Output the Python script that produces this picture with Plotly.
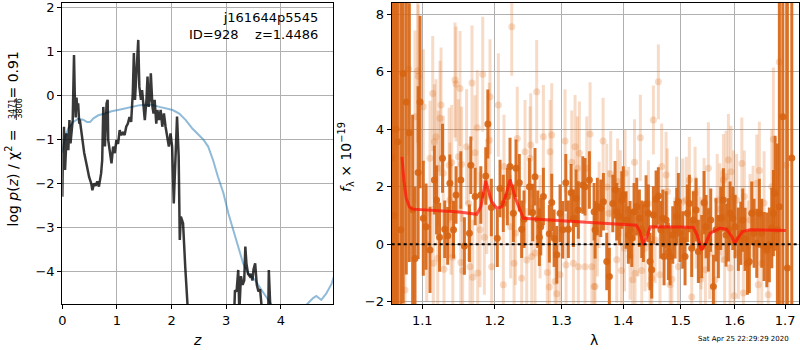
import plotly.graph_objects as go
import math

# ---------------- left panel: p(z) and chi2 ----------------
z_pz = [0.0, 0.007, 0.03, 0.05, 0.08, 0.11, 0.13, 0.15, 0.19, 0.214, 0.23, 0.245, 0.26, 0.275, 0.29, 0.31,
        0.32, 0.36, 0.40, 0.45, 0.49, 0.53, 0.55, 0.58, 0.61, 0.64, 0.67, 0.71, 0.73, 0.75, 0.78, 0.81,
        0.83, 0.84, 0.87, 0.90, 0.93, 0.96, 0.99, 1.02, 1.05, 1.08, 1.11, 1.14, 1.17, 1.20, 1.23, 1.26,
        1.29, 1.31, 1.33, 1.36, 1.39, 1.41, 1.44, 1.46, 1.49, 1.51, 1.54, 1.56, 1.58, 1.60, 1.62, 1.65,
        1.67, 1.69, 1.72, 1.74, 1.77, 1.80, 1.83, 1.86, 1.89, 1.92, 1.95, 1.98, 2.01, 2.04, 2.07, 2.10,
        2.13, 2.15, 2.17, 2.21, 2.25, 2.30, 2.40, 2.6, 2.8, 3.0, 3.10, 3.15, 3.16, 3.19, 3.22, 3.24,
        3.27, 3.30, 3.33, 3.35, 3.37, 3.40, 3.43, 3.45, 3.48, 3.50, 3.53, 3.56, 3.59, 3.62, 3.65, 3.70,
        3.77, 3.78, 3.81, 3.9, 4.2, 4.5, 4.97]
logp = [-2.3, -1.6, -0.71, -1.69, -0.86, -1.24, -0.56, -1.09, -0.56, 0.92, -0.10, -0.5, -0.05, -0.33, -0.18, -0.64,
        -0.55, -0.94, -1.3, -1.6, -1.85, -2.0, -2.15, -2.0, -2.05, -1.95, -2.07, -1.77, -1.47, -0.26, -1.16, -0.18,
        -0.1, -1.01, -1.31, -1.54, -1.16, -1.31, -1.01, -1.1, -0.79, -0.9, -0.85, -0.9, -0.71, -0.64, -0.49, -0.6,
        0.05, 0.96, -0.1, 0.62, 1.26, 0.2, -0.1, 0.12, -0.26, -0.56, -0.1, 0.43, -0.26, -0.1, 0.50, -0.26,
        -0.41, -0.1, -0.64, -0.33, -0.56, -0.33, -0.71, -0.41, -0.71, -0.94, -1.16, -0.86, -1.16, -2.45, -1.2, -0.48,
        -1.39, -3.28, -2.75, -2.9, -3.89, -4.9, -7.0, -8.0, -8.0, -7.5, -6.0, -4.8, -4.42, -4.45, -3.96, -4.9,
        -4.1, -4.3, -4.2, -3.43, -3.81, -4.05, -4.1, -4.05, -4.2, -3.95, -3.81, -4.3, -4.45, -4.4, -4.8, -5.5,
        -4.9, -3.96, -4.9, -7.0, -8.0, -8.0, -8.0]

z_chi = [0.0, 0.05, 0.11, 0.2, 0.29, 0.38, 0.45, 0.51, 0.57, 0.66, 0.78, 0.90, 1.02, 1.14, 1.26, 1.42, 1.54,
         1.66, 1.78, 1.90, 2.02, 2.14, 2.26, 2.38, 2.49, 2.58, 2.67, 2.76, 2.85, 2.95, 3.04, 3.13, 3.22,
         3.31, 3.40, 3.53, 3.65, 3.74, 3.83, 4.0, 4.2, 4.4, 4.47, 4.59, 4.65, 4.74, 4.83, 4.93, 4.99]
chi_scaled = [-1.3, -0.94, -0.75, -0.60, -0.53, -0.55, -0.60, -0.60, -0.52, -0.45, -0.41, -0.36, -0.33, -0.30,
              -0.26, -0.22, -0.21, -0.22, -0.26, -0.30, -0.33, -0.41, -0.56, -0.75, -0.88, -1.0, -1.16, -1.47,
              -1.85, -2.22, -2.68, -3.06, -3.43, -3.81, -4.04, -4.19, -4.42, -4.6, -4.75, -5.0, -5.15, -5.0,
              -4.75, -4.6, -4.55, -4.64, -4.5, -4.27, -4.04]

# ---------------- right panel: spectrum ----------------
lam_dark = [1.0605, 1.0632, 1.0657, 1.0680, 1.0720, 1.0750, 1.0790, 1.0830, 1.0873, 1.0904, 1.0945, 1.0970,
            1.1013, 1.1049, 1.1102, 1.1160, 1.1190, 1.1230, 1.1270, 1.1300, 1.1340, 1.1370, 1.1420, 1.1454,
            1.1520, 1.1570, 1.1640, 1.1660, 1.1720, 1.1800, 1.1870, 1.1900, 1.1950,
            1.2036, 1.2075, 1.2123, 1.2182, 1.2221, 1.2270, 1.2309, 1.2358, 1.2393, 1.2428, 1.2508, 1.2558,
            1.2593, 1.2634, 1.2659, 1.2680, 1.2720, 1.2811, 1.2848, 1.2885, 1.2926, 1.2977, 1.3019, 1.3067,
            1.3107, 1.3150, 1.3187, 1.3229, 1.3265, 1.3336, 1.3372, 1.3442, 1.3518,
            1.3534, 1.3571, 1.3627, 1.3670, 1.3725, 1.3768, 1.3825, 1.3863, 1.3891, 1.3935, 1.3975, 1.4000,
            1.4047, 1.4086, 1.4114, 1.4143, 1.4182, 1.4228, 1.4273, 1.4314, 1.4342, 1.4388, 1.4428, 1.4457,
            1.4486, 1.4515, 1.4562, 1.4602, 1.4644, 1.4680, 1.4702, 1.4738, 1.4778, 1.4808, 1.4856, 1.4897,
            1.4927, 1.4957, 1.4987, 1.5035, 1.5077, 1.5119, 1.5155, 1.5198, 1.5228,
            1.5278, 1.5320, 1.5382, 1.5425, 1.5462, 1.5505, 1.5549, 1.5598, 1.5649, 1.5692, 1.5737, 1.5787,
            1.5838, 1.5882, 1.5914, 1.5966, 1.6010, 1.6073, 1.6120, 1.6158, 1.6203, 1.6248, 1.6286, 1.6333,
            1.6379, 1.6432, 1.6483, 1.6531, 1.6577, 1.6631, 1.6682, 1.6731, 1.6763, 1.6797, 1.6844, 1.6884,
            1.6953, 1.7047, 1.7137]
flux_dark = [3.0, 1.0, 4.0, 3.56, 0.50, 5.94, 4.95, 3.88, 1.2, -0.5, 2.49, 4.95,
             0.90, 0.61, -0.20, 2.23, 1.54, 0.24, 2.99, 0.52, 0.29, 2.12, 0.50, 1.71,
             2.23, -0.06, 0.38, 2.75, 1.66, 1.71, 2.37, 4.18, 1.28,
             0.21, 1.94, 1.42, 1.66, 2.70, 1.08, 2.64, 2.14, 0.52, 0.87, 2.00, 1.10,
             2.35, 0.87, 0.24, 0.61, 1.66, 0.36, 1.45, 0.21, -0.37, 1.08, 0.50, 2.14,
             0.52, 1.79, 0.90, 1.60, 1.19, 2.06, 2.00, 2.23, 1.13,
             0.50, 1.31, 1.25, 1.48, -0.60, -1.12, 1.42, 1.89, 1.13, 0.96, 1.54, 1.71,
             0.84, 0.32, 0.50, 0.21, 1.13, 1.31, 0.90, 0.52, 0.38, 1.40, 1.08, -0.60,
             -0.89, 1.02, 1.56, 1.68, 0.50, 0.90, -0.43, 0.84, -0.25, -0.43, 0.32, 0.50,
             0.96, 1.48, 0.38, 0.15, -0.43, 1.08, 1.42, -0.14, 0.84,
             1.19, -0.25, -0.08, 1.45, 0.61, 0.15, 0.84, -1.47, 0.50, -0.08, 0.90, 1.54,
             0.32, 0.50, 1.08, 0.90, 0.61, 0.17, 0.38, 0.84, 0.17, -0.66, -0.60, 1.08,
             0.38, 0.03, 1.08, 0.38, -0.08, -0.20, -0.02, 0.56, 1.08, 1.77, 0.50, 1.3,
             4.43, -0.83, 3.0]
err_dark = [15, 15, 12, 10, 10, 8, 6, 4.5, 3.3, 2.5, 3, 3,
            2, 1.5, 1.5, 1.2, 1.2, 1.2, 1.2, 1.0, 1.0, 1.0, 1.0, 1.0,
            1.0, 1.0, 1.0, 1.0, 1.0, 1.0, 1.0, 1.2, 1.0,
            1.0, 1.0, 1.0, 1.0, 1.0, 1.0, 1.0, 1.0, 1.0, 1.0, 1.0, 1.0,
            1.0, 1.0, 1.0, 1.0, 1.0, 1.0, 1.0, 1.0, 1.0, 1.0, 1.0, 1.0,
            1.0, 1.0, 1.0, 1.0, 1.0, 1.0, 1.0, 1.0, 1.0,
            1.0, 1.0, 1.0, 1.0, 1.0, 1.0, 1.0, 1.0, 1.0, 1.0, 1.0, 1.0,
            1.0, 1.0, 1.0, 1.0, 1.0, 1.0, 1.0, 1.0, 1.0, 1.0, 1.0, 1.0,
            1.0, 1.0, 1.0, 1.0, 1.0, 1.0, 1.0, 1.0, 1.0, 1.0, 1.0, 1.0,
            1.0, 1.0, 1.0, 1.0, 1.0, 1.0, 1.0, 1.0, 1.0,
            1.1, 1.1, 1.1, 1.1, 1.1, 1.1, 1.1, 1.1, 1.1, 1.1, 1.1, 1.1,
            1.1, 1.1, 1.1, 1.1, 1.1, 1.1, 1.1, 1.1, 1.1, 1.1, 1.1, 1.1,
            1.2, 1.2, 1.2, 1.2, 1.2, 1.3, 1.3, 1.4, 1.5, 2.0, 3.0, 10,
            10, 12, 15]

lam_light = [1.0620, 1.0774, 1.0820, 1.0904, 1.0939, 1.0947, 1.1013, 1.1058, 1.1102, 1.1138, 1.1146, 1.1160,
             1.1182, 1.1205, 1.1213, 1.1236, 1.1250, 1.1280, 1.1290, 1.1360, 1.1370, 1.1386, 1.1395, 1.1410,
             1.1440, 1.1454, 1.1486, 1.1509, 1.1520, 1.1530, 1.1546, 1.1600, 1.1630, 1.1648, 1.1676, 1.1685,
             1.1718, 1.1750, 1.1756, 1.1789, 1.1827, 1.1850, 1.1884, 1.1920, 1.1931, 1.1955,
             1.2051, 1.2123, 1.2133, 1.2230, 1.2246, 1.2280, 1.2300, 1.2328, 1.2393, 1.2443, 1.2468, 1.2518,
             1.2528, 1.2543, 1.2593, 1.2618, 1.2669, 1.2720, 1.2780, 1.2811, 1.2822, 1.2848, 1.2900, 1.2926,
             1.2977, 1.3055, 1.3071, 1.3161, 1.3187, 1.3213, 1.3250, 1.3265, 1.3281, 1.3372, 1.3400, 1.3453,
             1.3480, 1.3518, 1.3534, 1.3571, 1.3600, 1.3665, 1.3725, 1.3760, 1.3790, 1.3891, 1.3905, 1.3950,
             1.3970, 1.4020, 1.4030, 1.4090, 1.4114, 1.4160, 1.4190, 1.4200, 1.4250, 1.4290, 1.4314, 1.4370,
             1.4428, 1.4457, 1.4486, 1.4515, 1.4545, 1.4602, 1.4630, 1.4660, 1.4738, 1.4760, 1.4808, 1.4840,
             1.4927, 1.4957, 1.5035, 1.5100, 1.5155, 1.5198,
             1.5260, 1.5278, 1.5330, 1.5360, 1.5370, 1.5425, 1.5450, 1.5505, 1.5530, 1.5630, 1.5670, 1.5720,
             1.5760, 1.5787, 1.5810, 1.5838, 1.5882, 1.5914, 1.5930, 1.5980, 1.5990, 1.6040, 1.6073, 1.6140,
             1.6170, 1.6190, 1.6260, 1.6300, 1.6360, 1.6432, 1.6460, 1.6483, 1.6531, 1.6577, 1.6660, 1.6730,
             1.6763, 1.6884, 1.7020]
flux_light = [4.0, -1.59, 6.09, 4.43, 6.03, 5.84, 4.78, 0.00, 2.99, 5.24, -0.66, 3.56,
              3.74, -0.49, 2.64, 4.38, 4.84, 2.47, -0.87, 2.75, 1.54, 0.94, 2.84, -0.45,
              5.71, 5.57, 3.04, 5.42, -0.64, 2.78, -0.92, 3.39, 1.42, -0.78, 5.61, -1.15,
              3.18, 4.05, -1.00, 0.50, 5.91, 0.24, 1.66, 3.62, 5.13, -0.78,
              4.84, -1.41, 2.70, 0.61, 7.56, -0.66, 0.38, 3.68, -1.18, 3.22, -0.55, 2.99,
              3.45, -0.43, -0.31, 5.30, 0.61, 3.74, -0.98, -1.49, 3.22, 3.80, -1.30, -1.72,
              -1.06, 3.59, -0.72, 2.85, -0.66, 3.39, 2.64, -0.78, 3.16, -0.78, 2.64, 3.83,
              -0.78, -1.47, -1.47, 0.38, 1.37, 3.59, 1.99, 1.08, 2.44, -0.54, 2.18, 1.77,
              -0.91, -0.14, 2.47, 1.19, -0.43, -1.24, 2.85, -1.01, 0.38, 3.70, -0.91, -0.14,
              1.42, -1.41, -1.18, 4.32, 0.15, 5.65, -1.06, 2.70, 2.41, 1.83, -1.41, -1.22,
              1.54, -0.78, 1.48, 1.54, 2.23, -1.84,
              1.79, 0.75, 0.38, -1.22, 0.03, 1.40, -0.89, 2.64, -0.31, -1.24, 1.54, 1.22,
              0.96, 2.23, -0.54, 2.35, 2.93, -0.83, 2.52, 1.66, -1.79, 1.54, -0.31, 2.81,
              -1.70, 1.66, -0.08, 0.84, 1.13, 2.12, -1.41, 2.56, -0.66, 1.43, -1.76, 2.00,
              3.65, 6.34, 2.75]
err_light = [12, 4, 3, 3, 2.5, 2.5, 2, 2, 2, 2, 2, 2,
             2, 2, 2, 2, 2, 2, 2, 2, 2, 2, 2, 2,
             2, 2, 2, 2, 2, 2, 2, 2, 2, 2, 2, 2,
             2, 2, 2, 2, 2, 2, 2, 2, 2, 2,
             1.8, 1.8, 1.8, 1.8, 1.7, 1.8, 1.8, 1.8, 1.8, 1.8, 1.8, 1.8,
             1.8, 1.8, 1.8, 1.8, 1.8, 1.8, 1.8, 1.8, 1.8, 1.8, 1.8, 1.8,
             1.8, 1.8, 1.8, 1.8, 1.8, 1.8, 1.8, 1.8, 1.8, 1.8, 1.8, 1.8,
             1.5, 1.5, 1.5, 1.5, 1.5, 1.5, 1.5, 1.5, 1.5, 1.5, 1.5, 1.5,
             1.5, 1.5, 1.5, 1.5, 1.5, 1.5, 1.5, 1.5, 1.5, 1.5, 1.5, 1.5,
             1.5, 1.5, 1.5, 1.2, 1.5, 1.3, 1.5, 1.5, 1.5, 1.5, 1.5, 1.5,
             1.5, 1.5, 1.5, 1.5, 1.5, 1.5,
             1.6, 1.6, 1.6, 1.6, 1.6, 1.6, 1.6, 1.6, 1.6, 1.6, 1.6, 1.6,
             1.6, 1.6, 1.6, 1.6, 1.6, 1.6, 1.6, 1.6, 1.6, 1.6, 1.6, 1.6,
             1.6, 1.6, 1.6, 1.6, 1.6, 1.7, 1.7, 1.7, 1.7, 1.8, 1.8, 2.0,
             2.5, 4.0, 6.0]

lam_model = [1.0735, 1.0760, 1.0790, 1.0830, 1.0870, 1.1200, 1.1500, 1.1743, 1.1800, 1.1870, 1.1950, 1.2027,
             1.2100, 1.2160, 1.2221, 1.2300, 1.2418, 1.3000, 1.3500, 1.4000, 1.4220, 1.4280, 1.4340, 1.4400,
             1.4460, 1.5000, 1.5230, 1.5300, 1.5380, 1.5460, 1.5536, 1.5724, 1.5850, 1.5950, 1.6000, 1.6060,
             1.6150, 1.6300, 1.7016]
flux_model = [3.04, 2.2, 1.6, 1.3, 1.22, 1.17, 1.12, 1.04, 1.3, 2.2, 1.5, 1.25,
              1.3, 1.7, 2.25, 1.6, 0.9, 0.82, 0.76, 0.70, 0.66, 0.45, -0.02, 0.25,
              0.61, 0.60, 0.58, 0.30, -0.20, 0.05, 0.38, 0.56, 0.52, 0.25, 0.03, 0.20,
              0.44, 0.50, 0.48]

z_ticks = [0, 1, 2, 3, 4]
logp_ticks = [-4, -3, -2, -1, 0, 1, 2]
lam_ticks = [1.1, 1.2, 1.3, 1.4, 1.5, 1.6, 1.7]
lam_ticktext = ["1.1", "1.2", "1.3", "1.4", "1.5", "1.6", "1.7"]
flux_ticks = [-2, 0, 2, 4, 6, 8]

FONT = "DejaVu Sans"
DARK = "rgba(214,100,18,0.9)"
LIGHT = "rgba(222,110,30,0.25)"

fig = go.Figure()

fig.add_trace(go.Scatter(x=z_chi, y=chi_scaled, mode="lines",
                         line=dict(color="rgba(31,119,180,0.5)", width=2),
                         xaxis="x", yaxis="y", showlegend=False))
fig.add_trace(go.Scatter(x=z_pz, y=logp, mode="lines",
                         line=dict(color="rgba(0,0,0,0.78)", width=2.5),
                         xaxis="x", yaxis="y", showlegend=False))

fig.add_trace(go.Scatter(x=lam_light, y=flux_light, mode="markers",
                         marker=dict(color=LIGHT, size=7),
                         error_y=dict(type="data", array=err_light, thickness=3, width=0, color=LIGHT),
                         xaxis="x2", yaxis="y2", showlegend=False))
fig.add_trace(go.Scatter(x=lam_dark, y=flux_dark, mode="markers",
                         marker=dict(color=DARK, size=7),
                         error_y=dict(type="data", array=err_dark, thickness=3, width=0, color=DARK),
                         xaxis="x2", yaxis="y2", showlegend=False))
fig.add_trace(go.Scatter(x=lam_model, y=flux_model, mode="lines",
                         line=dict(color="rgba(255,20,10,0.72)", width=3),
                         xaxis="x2", yaxis="y2", showlegend=False))

axis_common = dict(showgrid=True, gridcolor="#b0b0b0", gridwidth=1, zeroline=False, automargin=False,
                   showline=True, mirror=True, linecolor="black", linewidth=1.2,
                   ticks="outside", ticklen=4, tickcolor="black", tickwidth=1,
                   ticklabeloverflow="allow",
                   tickfont=dict(family=FONT, size=13, color="black"))

H = 350.0
W = 800.0


def ann(text, px, py, size, angle=0, xa="center", ya="middle", align="center"):
    return dict(text=text, xref="paper", yref="paper", x=px / W, y=1 - py / H, xanchor=xa, yanchor=ya,
                align=align, textangle=angle, showarrow=False,
                font=dict(family=FONT, size=size, color="black"))


fig.update_layout(
    template="none",
    width=800, height=350,
    margin=dict(l=0, r=0, t=0, b=0, autoexpand=False),
    paper_bgcolor="white", plot_bgcolor="white",
    font=dict(family=FONT, color="black"),
    xaxis=dict(domain=[0.0779, 0.4166], range=[0, 4.96], tickvals=z_ticks, anchor="y", **axis_common),
    yaxis=dict(domain=[0.1314, 0.9923], range=[-4.733, 2.105], tickvals=logp_ticks, anchor="x", **axis_common),
    xaxis2=dict(domain=[0.4896, 0.9991], type="log",
                range=[math.log10(1.0603), math.log10(1.7292)],
                tickvals=lam_ticks, ticktext=lam_ticktext, anchor="y2", **axis_common),
    yaxis2=dict(domain=[0.1314, 0.9923], range=[-2.08, 8.40], tickvals=flux_ticks, anchor="x2", **axis_common),
    shapes=[
        dict(type="line", xref="x2 domain", yref="y2", x0=0, x1=1, y0=0, y1=0,
             line=dict(color="black", width=2, dash="dot"), layer="above"),
        # fraction bar of the y-axis label
        dict(type="line", xref="paper", yref="paper", x0=16.3 / W, x1=16.3 / W,
             y0=1 - 98 / H, y1=1 - 120 / H, line=dict(color="black", width=0.8)),
    ],
    annotations=[
        ann("j161644p5545<br>ID=928\u00a0\u00a0\u00a0\u00a0z=1.4486", 319.5, 7.7, 13, xa="right", ya="top",
            align="right"),
        ann("<i>z</i>", 197, 340, 14),
        ann("λ", 594, 340, 14),
        ann("log <i>p</i>(<i>z</i>) / χ<sup>2</sup> =", 12.5, 178, 14, angle=-90),
        ann("3471", 13.0, 109, 8, angle=-90),
        ann("3806", 19.5, 109, 8, angle=-90),
        ann("= 0.91", 12.5, 75, 14, angle=-90),
        ann("<i>f</i><sub>λ</sub> × 10<sup>−19</sup>", 346, 157, 14, angle=-90),
        ann("Sat Apr 25 22:29:29 2020", 743, 339, 7),
    ],
)

fig.write_html("out.html", config={"displayModeBar": False})
